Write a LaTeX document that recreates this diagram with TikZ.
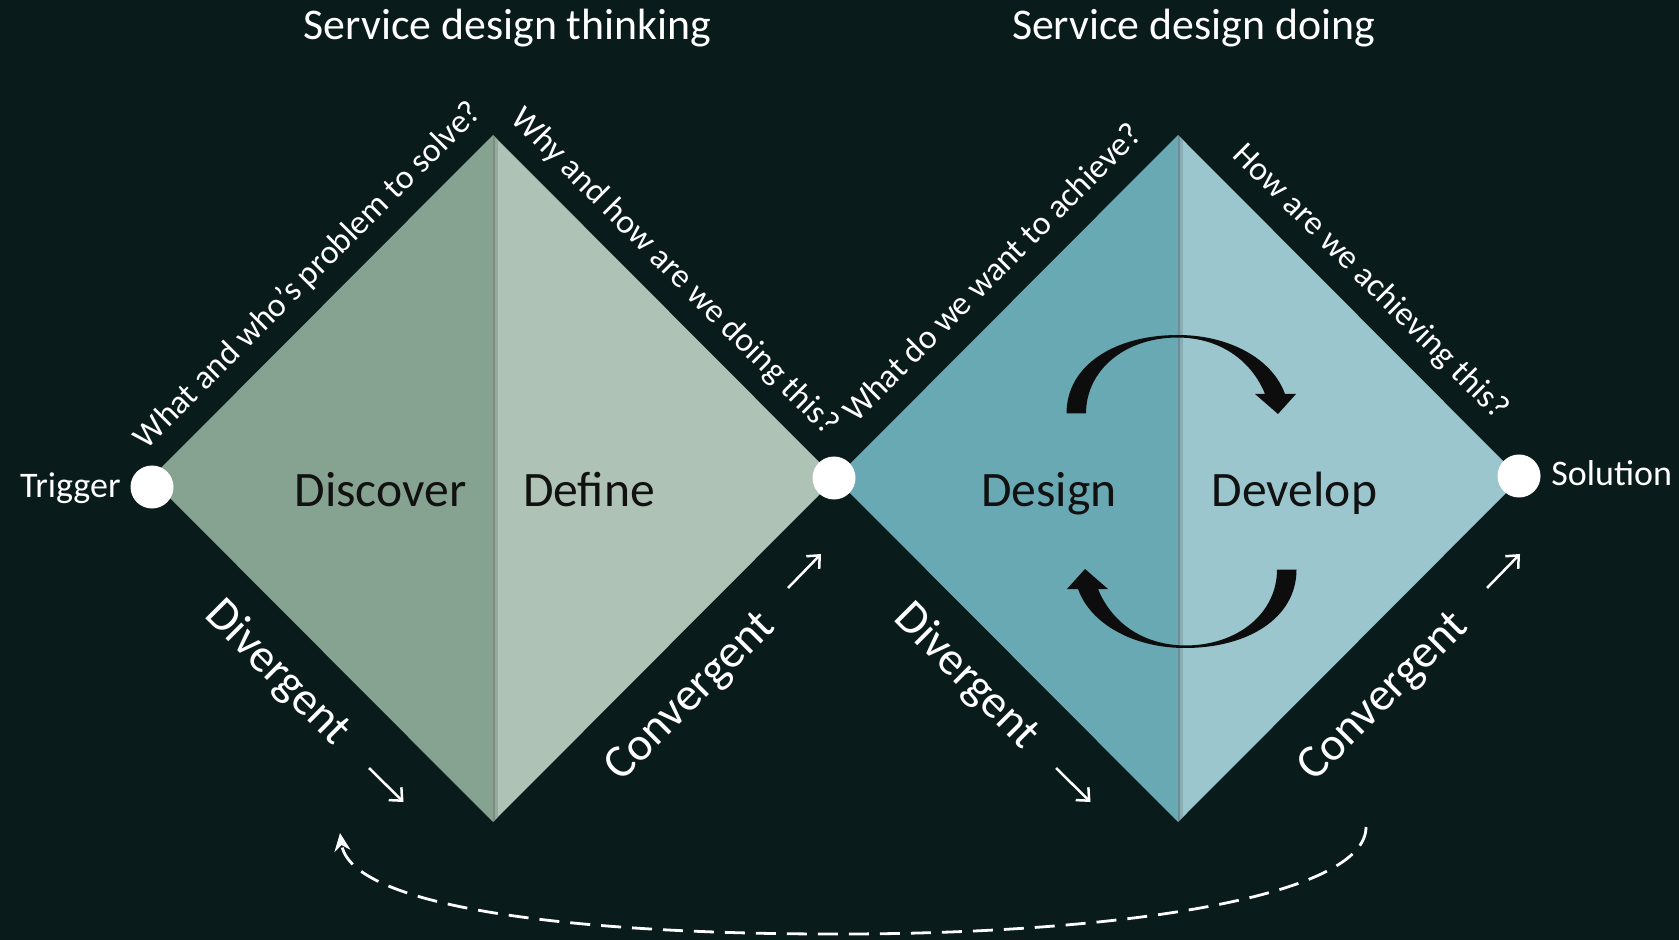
\documentclass[tikz,border=0pt]{standalone}
\usepackage{fontspec}
\setmainfont{Carlito}
\usetikzlibrary{arrows.meta}
\definecolor{bgc}{RGB}{9,27,26}
\definecolor{sageDark}{RGB}{134,162,145}
\definecolor{sageLight}{RGB}{174,194,181}
\definecolor{tealDark}{RGB}{105,169,179}
\definecolor{tealLight}{RGB}{155,198,205}
\definecolor{labeltxt}{RGB}{17,17,17}
\definecolor{cyclec}{RGB}{13,13,13}
\begin{document}
\begin{tikzpicture}[x=0.5pt,y=-0.5pt,
  lbl/.style={text=labeltxt, font=\fontsize{24.8}{29}\selectfont, anchor=base, inner sep=0pt},
  qtext/.style={text=white, font=\fontsize{16.9}{20}\selectfont, anchor=base, inner sep=0pt},
  ttl/.style={text=white, font=\fontsize{21.9}{26}\selectfont, anchor=base, inner sep=0pt},
  endtxt/.style={text=white, font=\fontsize{18}{21}\selectfont, inner sep=0pt},
  dctext/.style={text=white, font=\fontsize{23.5}{28}\selectfont, inner sep=0pt},
  dot/.style={circle, fill=white, minimum size=21.5pt, inner sep=0pt},
  sarrow/.style={white, line width=1.25pt, -{Straight Barb[length=5pt,width=9pt]}},
  loopline/.style={white, line width=1.4pt, dash pattern=on 10pt off 5.5pt, -{Stealth[length=9pt,width=8pt]}},
  cyclearrow/.style={fill=cyclec}
]
\fill[bgc] (0,0) rectangle (1679,940);
\useasboundingbox (0,0) rectangle (1679,940);

% diamond corners
\coordinate (LL) at (150.5,478.5);
\coordinate (LT) at (493,135);
\coordinate (LR) at (835.5,478.5);
\coordinate (LB) at (493,822);
\coordinate (RT) at (1178,135);
\coordinate (RR) at (1520.5,478.5);
\coordinate (RB) at (1178,822);

% left diamond
\fill[sageDark] (LL) -- (LT) -- (LB) -- cycle;
\fill[sageLight] (LT) -- (LR) -- (LB) -- cycle;
\begin{scope}
  \clip (LT) -- (LR) -- (LB) -- cycle;
  \fill[black, opacity=0.28] (493,100) rectangle (495,860);
  \fill[black, opacity=0.12] (495,100) rectangle (498,860);
\end{scope}

% right diamond
\fill[tealDark] (LR) -- (RT) -- (RB) -- cycle;
\fill[tealLight] (RT) -- (RR) -- (RB) -- cycle;
\begin{scope}
  \clip (RT) -- (RR) -- (RB) -- cycle;
  \fill[black, opacity=0.28] (1178,100) rectangle (1180,860);
  \fill[black, opacity=0.12] (1180,100) rectangle (1183,860);
\end{scope}

% cycle arrows
\fill[cyclearrow] (1066.5,413.5) .. controls (1066.5,365) and (1115,335) .. (1178,335)
  .. controls (1228,335) and (1272,358) .. (1285,394)
  -- (1296,394) -- (1278,414) -- (1255,394) -- (1265,394)
  .. controls (1252,362) and (1222,338) .. (1178,337.5)
  .. controls (1125,337.5) and (1086,370) .. (1086,413.5) -- cycle;
\begin{scope}[rotate around={180:(1181.5,491.5)}]
\fill[cyclearrow] (1066.5,413.5) .. controls (1066.5,365) and (1115,335) .. (1178,335)
  .. controls (1228,335) and (1272,358) .. (1285,394)
  -- (1296,394) -- (1278,414) -- (1255,394) -- (1265,394)
  .. controls (1252,362) and (1222,338) .. (1178,337.5)
  .. controls (1125,337.5) and (1086,370) .. (1086,413.5) -- cycle;
\end{scope}

% circles
\node[dot] (trig) at (152,487) {};
\node[dot] (mid) at (834,478) {};
\node[dot] (sol) at (1519,476) {};

% end labels
\node[endtxt, anchor=base east] (trigtxt) at (121,497) {Trigger};
\node[endtxt, anchor=base west] (soltxt) at (1551,485) {Solution};

% titles
\node[ttl] (t1) at (507.5,39.5) {Service design thinking};
\node[ttl] (t2) at (1193.5,39.5) {Service design doing};

% phase labels
\node[lbl] (discover) at (380.5,506) {Discover};
\node[lbl] (define) at (589,506) {Define};
\node[lbl] (design) at (1049,506) {Design};
\node[lbl] (develop) at (1294.5,506) {Develop};

% questions
\node[qtext, rotate=45] (q1) at (315,282) {What and who’s problem to solve?};
\node[qtext, rotate=-45] (q2) at (668,278.5) {Why and how are we doing this?};
\node[qtext, rotate=45] (q3) at (1000,280) {What do we want to achieve?};
\node[qtext, rotate=-45] (q4) at (1364,288.5) {How are we achieving this?};

% divergent / convergent
\node[dctext, rotate=-45] (div1) at (277,673) {Divergent};
\node[dctext, rotate=45] (con1) at (691,697.5) {Convergent};
\node[dctext, rotate=-45] (div2) at (966,676.5) {Divergent};
\node[dctext, rotate=45] (con2) at (1384,697.5) {Convergent};

% small arrows
\coordinate (d1s) at (369,768);
\coordinate (d1e) at (403.5,802);
\coordinate (c1s) at (788,588);
\coordinate (c1e) at (821,554);
\coordinate (d2s) at (1056,768);
\coordinate (d2e) at (1090.5,802);
\coordinate (c2s) at (1487,588);
\coordinate (c2e) at (1520,554);
\draw[sarrow] (d1s) -- (d1e);
\draw[sarrow] (c1s) -- (c1e);
\draw[sarrow] (d2s) -- (d2e);
\draw[sarrow] (c2s) -- (c2e);

% loop back
\coordinate (loopS) at (1366,827);
\coordinate (loopE) at (340,833);
\draw[loopline] (loopS) .. controls (1366,895) and (1130,933) .. (850,934)
  .. controls (560,935) and (350,905) .. (loopE);
\end{tikzpicture}
\end{document}
